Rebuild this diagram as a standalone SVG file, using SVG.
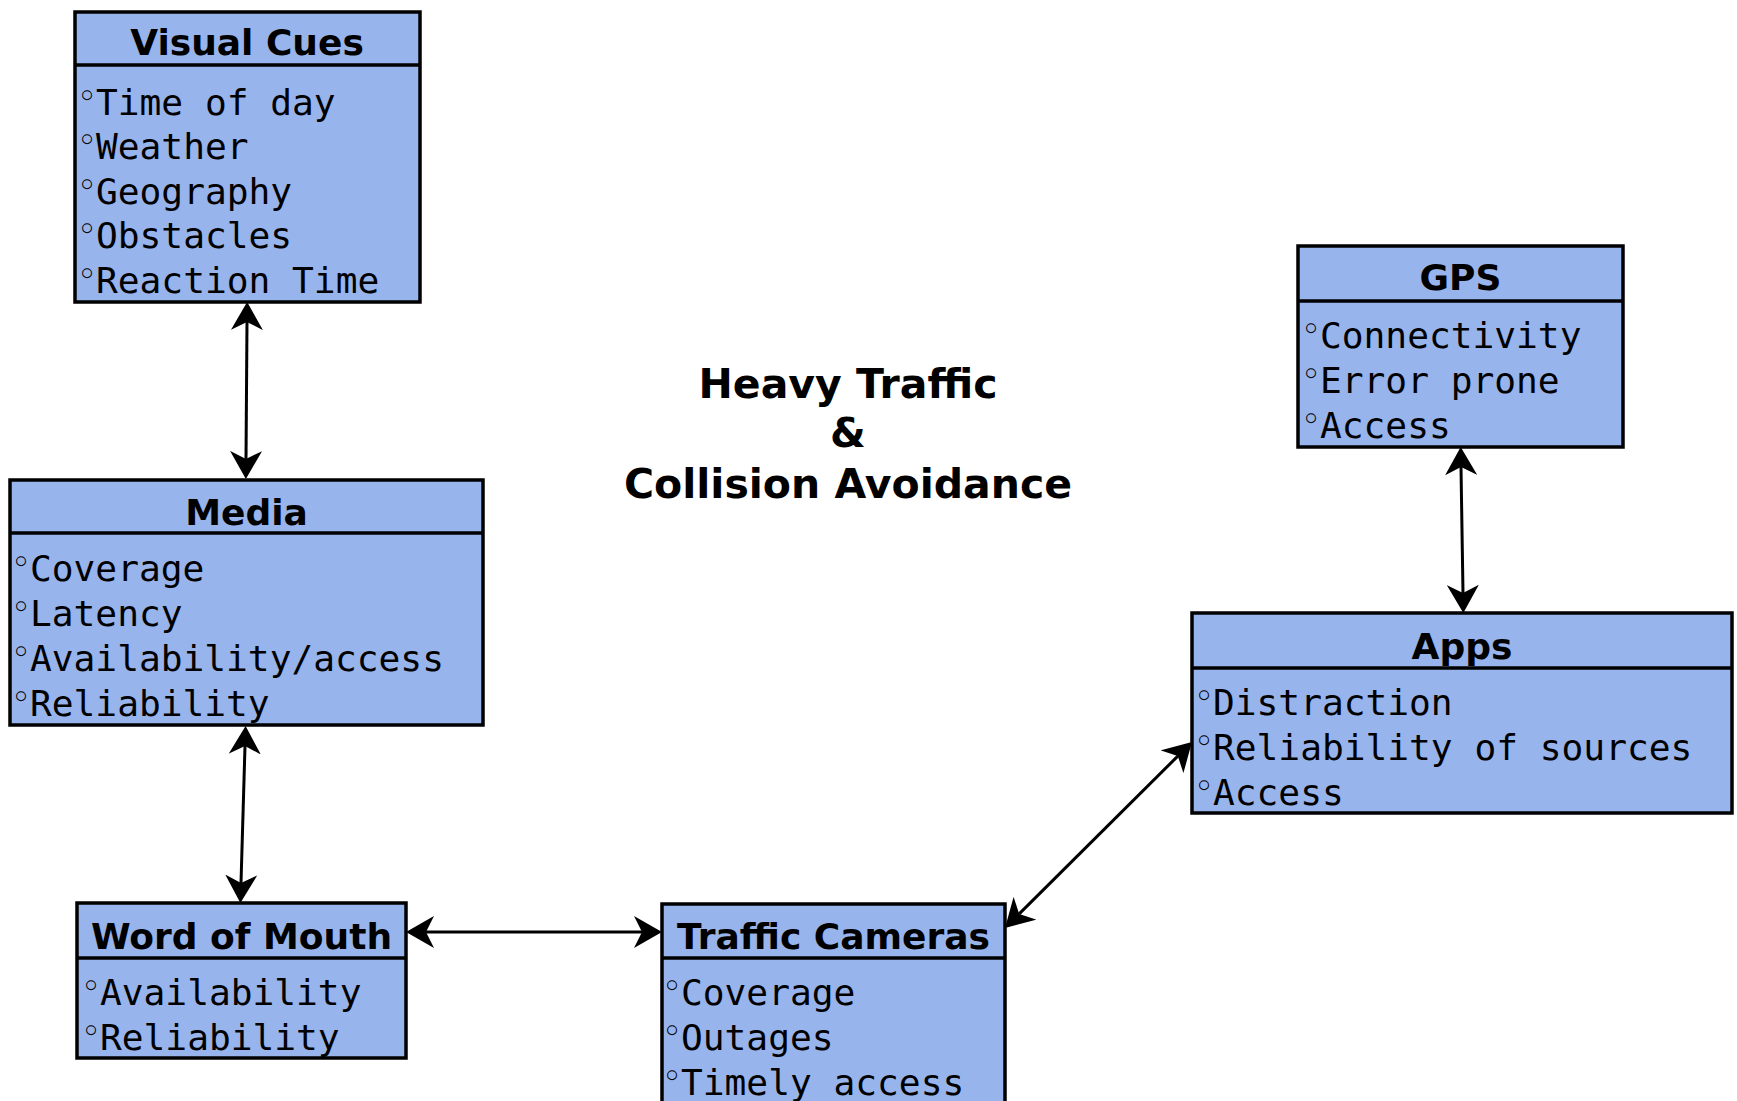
<svg xmlns="http://www.w3.org/2000/svg" width="1737" height="1101" viewBox="0 0 1737 1101">
  <style>
    .box{fill:#98b4ec;stroke:#000;stroke-width:3.5}
    .div{stroke:#000;stroke-width:3.5}
    .title{font-family:"DejaVu Sans",sans-serif;font-weight:bold;font-size:36px;text-anchor:middle;fill:#000}
    .item{font-family:"DejaVu Sans Mono",monospace;font-size:36.2px;fill:#000}
    .bul{font-family:"DejaVu Sans",sans-serif;font-size:34px;text-anchor:middle;fill:#000}
    .head{font-family:"DejaVu Sans",sans-serif;font-weight:bold;font-size:41px;text-anchor:middle;fill:#000}
    .conn{fill:none;stroke:#000;stroke-width:3;marker-start:url(#ah);marker-end:url(#ah)}
  </style>
  <defs>
    <!-- concave filled arrowhead; reference point sits in the notch -->
    <marker id="ah" markerUnits="userSpaceOnUse" viewBox="0 0 28 32" markerWidth="28" markerHeight="32" refX="8" refY="16" orient="auto-start-reverse">
      <path d="M0,0 L28,16 L0,32 L8,16 Z" fill="#000"/>
    </marker>
  </defs>
  <rect width="1737" height="1101" fill="#fff"/>

  <!-- centre caption -->
  <g id="caption">
    <text class="head" x="848" y="398">Heavy Traffic</text>
    <text class="head" x="848" y="447">&amp;</text>
    <text class="head" x="848" y="498">Collision Avoidance</text>
  </g>

  <g id="connectors">
    <path class="conn" d="M247,322 L246,459"/>
    <path class="conn" d="M245,746 L241,883"/>
    <path class="conn" d="M426,932 L642,932"/>
    <path class="conn" d="M1019.2,913.9 L1177.8,756.1"/>
    <path class="conn" d="M1461,467 L1463,593"/>
  </g>

  <g id="visual-cues">
    <rect class="box" x="75" y="12" width="345" height="290"/>
    <line class="div" x1="75" y1="65" x2="420" y2="65"/>
    <text class="title" x="247" y="55">Visual Cues</text>
    <text class="bul" x="87" y="107.5">◦</text><text class="item" x="96" y="114.5">Time of day</text>
    <text class="bul" x="87" y="152">◦</text><text class="item" x="96" y="159">Weather</text>
    <text class="bul" x="87" y="196.5">◦</text><text class="item" x="96" y="203.5">Geography</text>
    <text class="bul" x="87" y="241">◦</text><text class="item" x="96" y="248">Obstacles</text>
    <text class="bul" x="87" y="285.5">◦</text><text class="item" x="96" y="292.5">Reaction Time</text>
  </g>

  <g id="media">
    <rect class="box" x="10" y="480" width="473" height="245"/>
    <line class="div" x1="10" y1="533" x2="483" y2="533"/>
    <text class="title" x="246.5" y="525">Media</text>
    <text class="bul" x="21" y="573.5">◦</text><text class="item" x="30" y="580.5">Coverage</text>
    <text class="bul" x="21" y="618.5">◦</text><text class="item" x="30" y="625.5">Latency</text>
    <text class="bul" x="21" y="663.5">◦</text><text class="item" x="30" y="670.5">Availability/access</text>
    <text class="bul" x="21" y="708.5">◦</text><text class="item" x="30" y="715.5">Reliability</text>
  </g>

  <g id="word-of-mouth">
    <rect class="box" x="77" y="903" width="329" height="155"/>
    <line class="div" x1="77" y1="958" x2="406" y2="958"/>
    <text class="title" x="241.5" y="949">Word of Mouth</text>
    <text class="bul" x="91" y="997.5">◦</text><text class="item" x="100" y="1004.5">Availability</text>
    <text class="bul" x="91" y="1042.5">◦</text><text class="item" x="100" y="1049.5">Reliability</text>
  </g>

  <g id="traffic-cameras">
    <rect class="box" x="662" y="904" width="343" height="220"/>
    <line class="div" x1="662" y1="958" x2="1005" y2="958"/>
    <text class="title" x="833.5" y="949">Traffic Cameras</text>
    <text class="bul" x="672" y="997.5">◦</text><text class="item" x="681" y="1004.5">Coverage</text>
    <text class="bul" x="672" y="1042.5">◦</text><text class="item" x="681" y="1049.5">Outages</text>
    <text class="bul" x="672" y="1087.5">◦</text><text class="item" x="681" y="1094.5">Timely access</text>
  </g>

  <g id="gps">
    <rect class="box" x="1298" y="246" width="325" height="201"/>
    <line class="div" x1="1298" y1="301" x2="1623" y2="301"/>
    <text class="title" x="1460.5" y="290">GPS</text>
    <text class="bul" x="1311" y="340.5">◦</text><text class="item" x="1320" y="347.5">Connectivity</text>
    <text class="bul" x="1311" y="385.5">◦</text><text class="item" x="1320" y="392.5">Error prone</text>
    <text class="bul" x="1311" y="430.5">◦</text><text class="item" x="1320" y="437.5">Access</text>
  </g>

  <g id="apps">
    <rect class="box" x="1192" y="613" width="540" height="200"/>
    <line class="div" x1="1192" y1="668" x2="1732" y2="668"/>
    <text class="title" x="1462" y="659">Apps</text>
    <text class="bul" x="1204" y="707.5">◦</text><text class="item" x="1213" y="714.5">Distraction</text>
    <text class="bul" x="1204" y="752.5">◦</text><text class="item" x="1213" y="759.5">Reliability of sources</text>
    <text class="bul" x="1204" y="797.5">◦</text><text class="item" x="1213" y="804.5">Access</text>
  </g>
</svg>
